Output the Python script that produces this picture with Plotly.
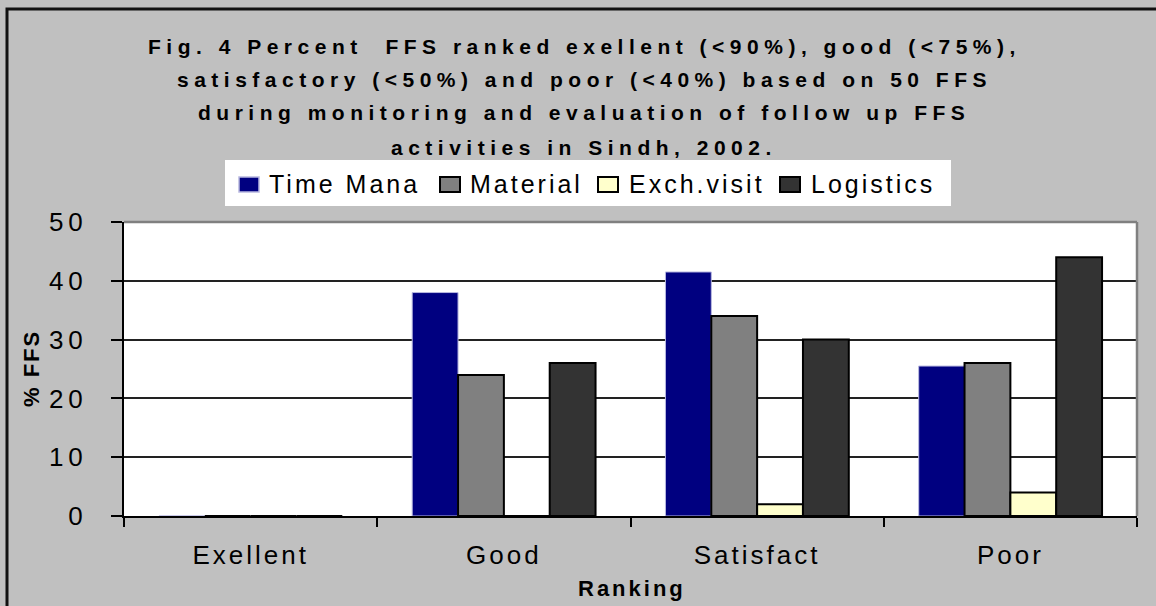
import plotly.graph_objects as go

categories = ["Exellent", "Good", "Satisfact", "Poor"]
series_names = ["Time Mana", "Material", "Exch.visit", "Logistics"]
time_mana = [0, 38, 41.5, 25.5]
material = [0, 24, 34, 26]
exch_visit = [0, 0, 2, 4]
logistics = [0, 26, 30, 44]
y_ticks = [0, 10, 20, 30, 40, 50]
title_lines = [
    "Fig. 4 Percent  FFS ranked exellent (&lt;90%), good (&lt;75%),",
    "satisfactory (&lt;50%) and poor (&lt;40%) based on 50 FFS",
    "during monitoring and evaluation of follow up FFS",
    "activities in Sindh, 2002.",
]
y_title = "% FFS"
x_title = "Ranking"

FONT = "Arial, 'Liberation Sans', sans-serif"
W, H = 1156, 606
L, R, T, B = 124, 1137, 222, 516
pw, ph = R - L, B - T


def px(x):
    return (x - L) / pw


def py(y):
    return (B - y) / ph


def spaced(text, s):
    return '<span style="letter-spacing:%spx">%s</span>' % (s, text)


colors = ["#000080", "#808080", "#FFFFCC", "#333333"]
line_colors = ["#B8B8E0", "#000000", "#000000", "#000000"]
values = [time_mana, material, exch_visit, logistics]

fig = go.Figure()
for name, vals, c, lc in zip(series_names, values, colors, line_colors):
    fig.add_trace(go.Bar(
        name=name, x=categories, y=vals, showlegend=False,
        marker=dict(color=c, line=dict(color=lc, width=2 if lc == "#000000" else 1)),
    ))

annotations = []
shapes = []

# title
for line, yc in zip(title_lines, [46, 80, 113, 147]):
    annotations.append(dict(
        text="<b>" + spaced(line, 5.5) + "</b>", x=px(584), y=py(yc), xref="paper", yref="paper",
        xanchor="center", yanchor="middle", showarrow=False,
        font=dict(family=FONT, size=21, color="#000000"),
    ))

# axis titles
annotations.append(dict(
    text="<b>" + spaced(y_title, 2) + "</b>", x=px(31), y=py(369), xref="paper", yref="paper",
    xanchor="center", yanchor="middle", showarrow=False, textangle=-90,
    font=dict(family=FONT, size=22, color="#000000"),
))
annotations.append(dict(
    text="<b>" + spaced(x_title, 3) + "</b>", x=px(632), y=py(588), xref="paper", yref="paper",
    xanchor="center", yanchor="middle", showarrow=False,
    font=dict(family=FONT, size=22, color="#000000"),
))

# outer frame
shapes.append(dict(type="rect", xref="paper", yref="paper", x0=px(7), x1=px(1175), y0=py(640), y1=py(9),
                   line=dict(color="#111111", width=3), layer="below"))
# plot area border (top/right grey)
shapes.append(dict(type="line", xref="paper", yref="paper", x0=0, x1=1, y0=1, y1=1,
                   line=dict(color="#808080", width=2.5), layer="above"))
shapes.append(dict(type="line", xref="paper", yref="paper", x0=1, x1=1, y0=0, y1=1,
                   line=dict(color="#808080", width=2.5), layer="above"))

# legend (box, swatches, labels)
shapes.append(dict(type="rect", xref="paper", yref="paper", x0=px(225), x1=px(951), y0=py(206), y1=py(160),
                   fillcolor="#FFFFFF", line=dict(width=0), layer="below"))
sym_x = [239, 440, 598, 780]
txt_x = [267, 468, 627, 809]
for name, c, lc, sx, tx in zip(series_names, colors, line_colors, sym_x, txt_x):
    shapes.append(dict(type="rect", xref="paper", yref="paper", x0=px(sx), x1=px(sx + 20),
                       y0=py(192), y1=py(177), fillcolor=c,
                       line=dict(color=lc, width=2 if lc == "#000000" else 1.5), layer="above"))
    annotations.append(dict(
        text=spaced(name, 3), x=px(tx), y=py(184), xref="paper", yref="paper",
        xanchor="left", yanchor="middle", showarrow=False,
        font=dict(family=FONT, size=25, color="#000000"),
    ))

fig.update_layout(
    width=W, height=H,
    margin=dict(l=L, r=W - R, t=T, b=H - B),
    paper_bgcolor="#C0C0C0", plot_bgcolor="#FFFFFF",
    barmode="group", bargap=0.276, bargroupgap=0,
    showlegend=False,
    annotations=annotations, shapes=shapes,
    font=dict(family=FONT, color="#000000"),
)
fig.update_yaxes(
    range=[0, 50], tickvals=y_ticks, ticks="outside", ticklen=11, tickcolor="#000000", tickwidth=1.5,
    showgrid=True, gridcolor="#222222", gridwidth=1.5,
    showline=True, linecolor="#000000", linewidth=2, zeroline=False, layer="above traces",
    tickfont=dict(family=FONT, size=26, color="#000000"), ticklabelstandoff=18,
)
fig.update_xaxes(
    tickson="boundaries", ticks="outside", ticklen=9, tickcolor="#000000", tickwidth=1.5,
    showline=True, linecolor="#000000", linewidth=2, showgrid=False, layer="above traces",
    tickfont=dict(family=FONT, size=26, color="#000000"), ticklabelstandoff=15,
)

css = """
var s = document.createElement('style');
s.textContent = 'html, body {margin:0 !important; padding:0 !important;} .xtick text {letter-spacing: 3px;} .ytick text {letter-spacing: 5px;}';
document.head.appendChild(s);
"""
fig.write_html("out.html", post_script=css, config={"displayModeBar": False})
